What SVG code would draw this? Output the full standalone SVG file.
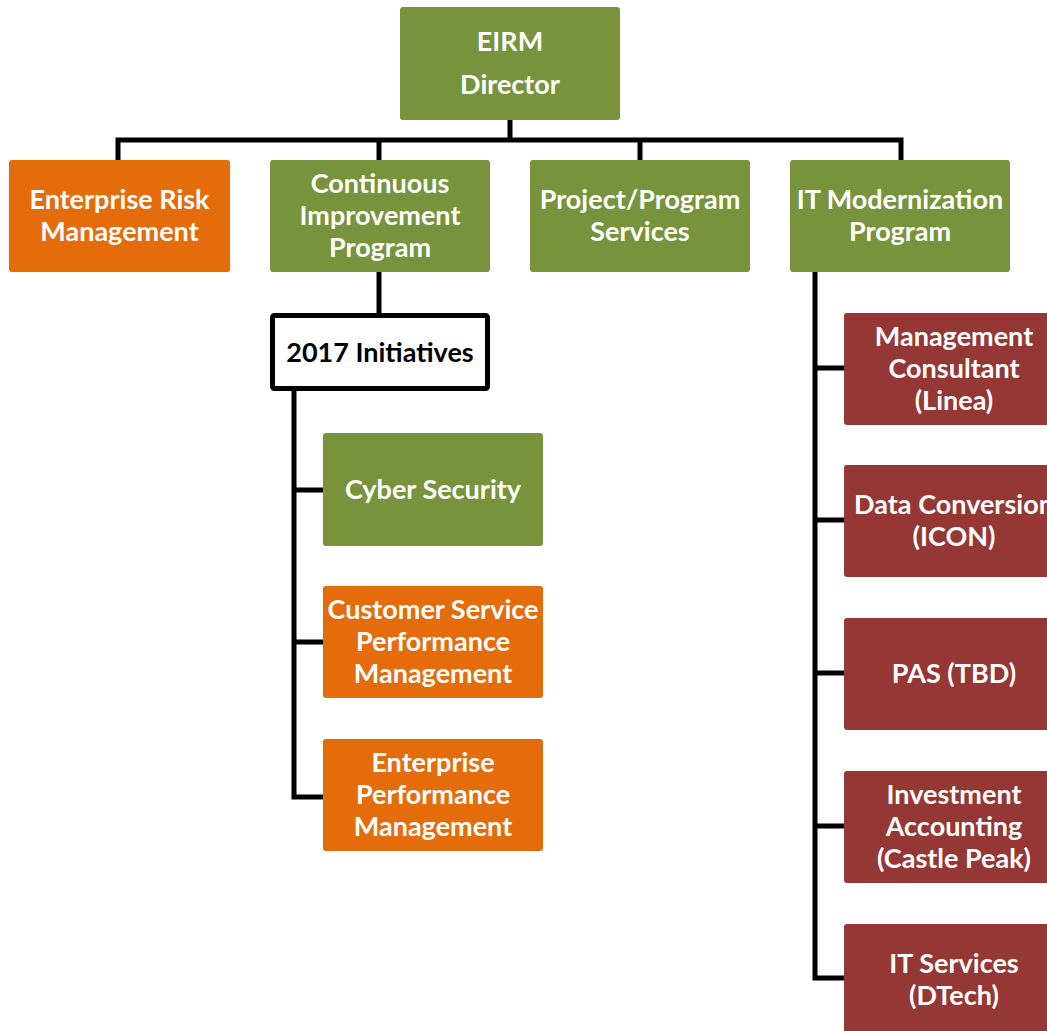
<svg xmlns="http://www.w3.org/2000/svg" width="1047" height="1031" viewBox="0 0 1047 1031">
<style>
.g{fill:#77933C}.o{fill:#E46C0A}.r{fill:#953735}
text{font-family:Lato,"Open Sans","Liberation Sans",sans-serif;font-weight:bold;font-size:27px;fill:#fff;text-anchor:middle}
.k{fill:#000}
.c{fill:none;stroke:#000;stroke-width:5;stroke-linejoin:miter;stroke-linecap:square}
</style>
<rect width="1047" height="1031" fill="#fff"/>
<g id="connectors">
<path class="c" d="M510 120V140M118 158V140H901V158M379 140V158M640 140V158"/>
<path class="c" d="M379 272V313"/>
<path class="c" d="M294 392V797H321M294 490H321M294 642H321"/>
<path class="c" d="M815 274V978H842M815 368H842M815 520H842M815 673H842M815 826H842"/>
</g>
<g id="eirm"><rect class="g" x="400" y="7" width="220" height="113" rx="3"/><text x="510" y="51">EIRM</text><text x="510" y="94">Director</text></g>
<g id="erm"><rect class="o" x="9" y="160" width="221" height="112" rx="3"/><text x="119.5" y="209">Enterprise Risk</text><text x="119.5" y="241">Management</text></g>
<g id="cip"><rect class="g" x="270" y="160" width="220" height="112" rx="3"/><text x="380" y="193">Continuous</text><text x="380" y="225">Improvement</text><text x="380" y="257">Program</text></g>
<g id="pps"><rect class="g" x="530" y="160" width="220" height="112" rx="3"/><text x="640" y="209">Project/Program</text><text x="640" y="241">Services</text></g>
<g id="itm"><rect class="g" x="790" y="160" width="220" height="112" rx="3"/><text x="900" y="209">IT Modernization</text><text x="900" y="241">Program</text></g>
<g id="init"><rect x="272.5" y="315.5" width="215" height="73" rx="2" fill="#fff" stroke="#000" stroke-width="5"/><text class="k" x="380" y="362">2017 Initiatives</text></g>
<g id="cyber"><rect class="g" x="323" y="433" width="220" height="113" rx="3"/><text x="433" y="499">Cyber Security</text></g>
<g id="cspm"><rect class="o" x="323" y="586" width="220" height="112" rx="3"/><text x="433" y="619">Customer Service</text><text x="433" y="651">Performance</text><text x="433" y="683">Management</text></g>
<g id="epm"><rect class="o" x="323" y="739" width="220" height="112" rx="3"/><text x="433" y="772">Enterprise</text><text x="433" y="804">Performance</text><text x="433" y="836">Management</text></g>
<g id="mc"><rect class="r" x="844" y="313" width="220" height="112" rx="3"/><text x="954" y="346">Management</text><text x="954" y="378">Consultant</text><text x="954" y="410">(Linea)</text></g>
<g id="dc"><rect class="r" x="844" y="465" width="220" height="112" rx="3"/><text x="954" y="514">Data Conversion</text><text x="954" y="546">(ICON)</text></g>
<g id="pas"><rect class="r" x="844" y="618" width="220" height="112" rx="3"/><text x="954" y="683">PAS (TBD)</text></g>
<g id="ia"><rect class="r" x="844" y="771" width="220" height="112" rx="3"/><text x="954" y="804">Investment</text><text x="954" y="836">Accounting</text><text x="954" y="868">(Castle Peak)</text></g>
<g id="its"><rect class="r" x="844" y="924" width="220" height="112" rx="3"/><text x="954" y="973">IT Services</text><text x="954" y="1005">(DTech)</text></g>
</svg>
